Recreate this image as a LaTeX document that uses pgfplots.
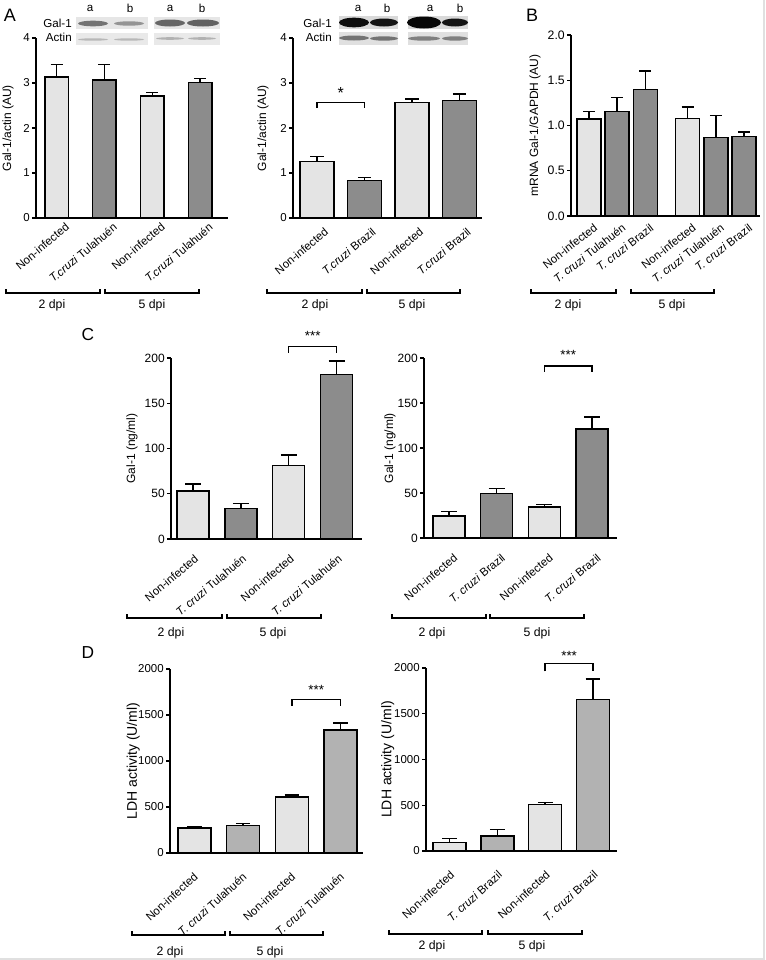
\documentclass[border=0pt]{standalone}
\usepackage{pgfplots}
\pgfplotsset{compat=1.18}
\usepackage{fontspec}
\setmainfont{Liberation Sans}
\definecolor{lightbar}{HTML}{E4E4E4}
\definecolor{darkbar}{HTML}{8C8C8C}
\definecolor{midbar}{HTML}{B2B2B2}
\definecolor{blotbg}{HTML}{E6E6E6}

\pgfplotsset{
  panel/.style={
    scale only axis,
    axis x line=bottom, axis y line=left,
    axis line style={-, line width=1.1pt},
    ymin=0,
    xtick style={draw=none},
    ytick style={line width=1pt, black},
    tick align=outside, major tick length=3pt,
    yticklabel style={font=\fontsize{8.6}{10}\selectfont, inner sep=1.5pt},
    /pgf/number format/assume math mode=true,
    /pgf/number format/1000 sep={},
    clip=false,
    ylabel style={font=\fontsize{9}{10}\selectfont, anchor=center},
  },
  xl/.style n args={3}{xticklabel style={font=\fontsize{8.6}{10}\selectfont, xshift=#1, yshift=#2, rotate=#3, anchor=north east, inner sep=0pt}},
  barL/.style={ybar, bar shift=0pt, fill=lightbar, draw=black, line width=1.1pt},
  barD/.style={ybar, bar shift=0pt, fill=darkbar, draw=black, line width=1.1pt},
  barM/.style={ybar, bar shift=0pt, fill=midbar, draw=black, line width=1.1pt},
  errs/.style={error bars/.cd, y dir=plus, y explicit,
    error bar style={line width=1.1pt, black, solid},
    error mark options={rotate=90, mark size=#1, line width=1.1pt, black}},
}
\newcommand{\grp}[3]{% x1 x2 y
  \draw[line width=1.1pt] (#1,#3-4) -- (#1,#3) -- (#2,#3) -- (#2,#3-4);}
\newcommand{\tc}{\textit{T. cruzi}}

\begin{document}
\begin{tikzpicture}[x=0.75pt,y=-0.75pt]
\path[use as bounding box] (0,0) rectangle (765,960);
\draw[color=black!12, line width=1.5pt] (764,0) -- (764,959) -- (0,959);

\coordinate (oA1) at (36,218);
\coordinate (oA2) at (293,218);
\coordinate (oB) at (571,216);
\coordinate (oC1) at (171,539);
\coordinate (oC2) at (424,538);
\coordinate (oD1) at (170,853);
\coordinate (oD2) at (426,851);

% panel letters
\node[font=\fontsize{13.5}{14}\selectfont] at (10,15) {A};
\node[font=\fontsize{13.5}{14}\selectfont] at (532,15) {B};
\node[font=\fontsize{13}{14}\selectfont] at (88,335) {C};
\node[font=\fontsize{13}{14}\selectfont] at (88,653) {D};

% ---- blots A left
\fill[blotbg] (76,17) rectangle (148,29);
\fill[blotbg] (154,17) rectangle (220,29);
\fill[blotbg!90!white] (76,33) rectangle (148,45);
\fill[blotbg!90!white] (154,33) rectangle (220,45);
\fill[black!55] (93,23.5) ellipse (15 and 2.8);
\fill[black!42] (129,23.5) ellipse (15 and 2.2);
\fill[black!60] (170,23) ellipse (15 and 3.5);
\fill[black!62] (203,23) ellipse (16 and 3.5);
\fill[black!28] (93,39.5) ellipse (15 and 1.2);
\fill[black!28] (129,39.5) ellipse (15 and 1.2);
\fill[black!30] (170,38.5) ellipse (14 and 1.3);
\fill[black!30] (202,38.5) ellipse (14 and 1.3);
\begin{scope}[font=\fontsize{8.7}{10}\selectfont]
\node[anchor=east,inner sep=0pt] at (72,23) {Gal-1};
\node[anchor=east,inner sep=0pt] at (72,37) {Actin};
\node at (90,8) {a}; \node at (130,8) {b};
\node at (170,8) {a}; \node at (202,8) {b};
\end{scope}
% ---- blots A right
\fill[black!15] (339,16) rectangle (398,29);
\fill[black!15] (408,16) rectangle (468,29);
\fill[black!12] (339,32) rectangle (398,45);
\fill[black!12] (408,32) rectangle (468,45);
\fill[black!95] (354,22.5) ellipse (15 and 4.8);
\fill[black!92] (384,22.5) ellipse (14 and 4);
\fill[black!97] (424,22.5) ellipse (17 and 6);
\fill[black!92] (455,22.5) ellipse (13 and 4);
\fill[black!55] (354,38) ellipse (15 and 2.5);
\fill[black!55] (384,38.5) ellipse (14 and 2.2);
\fill[black!50] (424,38.5) ellipse (16 and 2.2);
\fill[black!50] (455,38.5) ellipse (13 and 2.2);
\begin{scope}[font=\fontsize{8.7}{10}\selectfont]
\node[anchor=east,inner sep=0pt] at (332,23) {Gal-1};
\node[anchor=east,inner sep=0pt] at (332,37) {Actin};
\node at (358,8) {a}; \node at (387,8) {b};
\node at (430,8) {a}; \node at (460,8) {b};
\end{scope}

% ================= A left
\begin{axis}[panel, at={(oA1)}, anchor=south west, width=144pt, height=135pt,
  xmin=-0.43, xmax=3.58, ymax=4, ytick={0,1,2,3,4},
  xtick={0,1,2,3},
  xticklabels={Non-infected,{\textit{T.cruzi} Tulahuén},Non-infected,{\textit{T.cruzi} Tulahuén}},
  xl={6pt}{0pt}{40},
  ylabel={Gal-1/actin (AU)}, ylabel style={at={(axis description cs:-0.146,0.5)}}]
\addplot[barL, bar width=17.6pt, errs=4.5pt] table[x=x,y=y,y error=e,row sep=\\]{x y e\\ 0 3.13 0.28\\ 2 2.71 0.08\\};
\addplot[barD, bar width=17.6pt, errs=4.5pt] table[x=x,y=y,y error=e,row sep=\\]{x y e\\ 1 3.07 0.34\\ 3 3.01 0.09\\};
\end{axis}

% ================= A right
\begin{axis}[panel, at={(oA2)}, anchor=south west, width=141.75pt, height=135pt,
  xmin=-0.505, xmax=3.47, ymax=4, ytick={0,1,2,3,4},
  xtick={0,1,2,3},
  xticklabels={Non-infected,{\textit{T.cruzi} Brazil},Non-infected,{\textit{T.cruzi} Brazil}},
  xl={5pt}{-3.5pt}{40},
  ylabel={Gal-1/actin (AU)}, ylabel style={at={(axis description cs:-0.159,0.5)}}]
\addplot[barL, bar width=25.5pt, errs=5pt] table[x=x,y=y,y error=e,row sep=\\]{x y e\\ 0 1.26 0.11\\ 2 2.57 0.07\\};
\addplot[barD, bar width=25.5pt, errs=5pt] table[x=x,y=y,y error=e,row sep=\\]{x y e\\ 1 0.83 0.07\\ 3 2.61 0.15\\};
\draw[line width=1.1pt] (axis cs:0,2.44) -- (axis cs:0,2.57) -- (axis cs:1,2.57) -- (axis cs:1,2.44);
\node[font=\fontsize{12}{13}\selectfont] at (axis cs:0.5,2.78) {*};
\end{axis}

% ================= B
\begin{axis}[panel, at={(oB)}, anchor=south west, width=141.75pt, height=135.75pt,
  xmin=-0.64, xmax=6.07, ymax=2, ytick={0,0.5,1,1.5,2},
  yticklabel style={font=\fontsize{9.2}{10}\selectfont, /pgf/number format/.cd, fixed, fixed zerofill, precision=1},
  xtick={0,1,2,3.5,4.5,5.5},
  xticklabels={Non-infected,{\tc\ Tulahuén},{\tc\ Brazil},Non-infected,{\tc\ Tulahuén},{\tc\ Brazil}},
  xl={3pt}{-2pt}{38},
  ylabel={mRNA Gal-1/GAPDH (AU)}, ylabel style={at={(axis description cs:-0.19,0.5)}}]
\addplot[barL, bar width=18pt, errs=4.5pt] table[x=x,y=y,y error=e,row sep=\\]{x y e\\ 0 1.07 0.085\\ 3.5 1.075 0.13\\};
\addplot[barD, bar width=18pt, errs=4.5pt] table[x=x,y=y,y error=e,row sep=\\]{x y e\\ 1 1.155 0.155\\ 2 1.40 0.20\\ 4.5 0.87 0.24\\ 5.5 0.878 0.048\\};
\end{axis}

% ================= C left
\begin{axis}[panel, at={(oC1)}, anchor=south west, width=143.25pt, height=135.75pt,
  xmin=-0.46, xmax=3.53, ymax=200, ytick={0,50,100,150,200},
  yticklabel style={font=\fontsize{9}{10}\selectfont},
  xtick={0,1,2,3},
  xticklabels={Non-infected,{\tc\ Tulahuén},Non-infected,{\tc\ Tulahuén}},
  xl={0.5pt}{-8pt}{40},
  ylabel={Gal-1 (ng/ml)}, ylabel style={at={(axis description cs:-0.204,0.5)}}]
\addplot[barL, bar width=24pt, errs=6pt] table[x=x,y=y,y error=e,row sep=\\]{x y e\\ 0 52.8 8.1\\ 2 81.2 11.8\\};
\addplot[barD, bar width=24pt, errs=6pt] table[x=x,y=y,y error=e,row sep=\\]{x y e\\ 1 34 5.5\\ 3 181.5 15.2\\};
\draw[line width=1.1pt] (axis cs:2,206) -- (axis cs:2,213) -- (axis cs:3,213) -- (axis cs:3,206);
\node[font=\fontsize{10}{11}\selectfont] at (axis cs:2.5,224) {***};
\end{axis}

% ================= C right
\begin{axis}[panel, at={(oC2)}, anchor=south west, width=144.75pt, height=135pt,
  xmin=-0.52, xmax=3.52, ymax=200, ytick={0,50,100,150,200},
  yticklabel style={font=\fontsize{9}{10}\selectfont},
  xtick={0,1,2,3},
  xticklabels={Non-infected,{\tc\ Brazil},Non-infected,{\tc\ Brazil}},
  xl={3pt}{-8pt}{40},
  ylabel={Gal-1 (ng/ml)}, ylabel style={at={(axis description cs:-0.176,0.5)}}]
\addplot[barL, bar width=24pt, errs=6pt] table[x=x,y=y,y error=e,row sep=\\]{x y e\\ 0 24.7 4.8\\ 2 34.3 3\\};
\addplot[barD, bar width=24pt, errs=6pt] table[x=x,y=y,y error=e,row sep=\\]{x y e\\ 1 49.4 5.6\\ 3 121 13.3\\};
\draw[line width=1.1pt] (axis cs:2,185) -- (axis cs:2,191) -- (axis cs:3,191) -- (axis cs:3,185);
\node[font=\fontsize{10}{11}\selectfont] at (axis cs:2.5,203) {***};
\end{axis}

% ================= D left
\begin{axis}[panel, at={(oD1)}, anchor=south west, width=144.75pt, height=138pt,
  xmin=-0.5, xmax=3.46, ymax=2000, ytick={0,500,1000,1500,2000},
  xtick={0,1,2,3},
  xticklabels={Non-infected,{\tc\ Tulahuén},Non-infected,{\tc\ Tulahuén}},
  xl={-1pt}{-11pt}{42},
  ylabel={LDH activity (U/ml)}, ylabel style={font=\fontsize{10.5}{11}\selectfont, at={(axis description cs:-0.19,0.5)}}]
\addplot[barL, bar width=24.75pt, errs=5.5pt] table[x=x,y=y,y error=e,row sep=\\]{x y e\\ 0 271 18\\ 2 611 18\\};
\addplot[barM, bar width=24.75pt, errs=5.5pt] table[x=x,y=y,y error=e,row sep=\\]{x y e\\ 1 300 22\\ 3 1338 76\\};
\draw[line width=1.1pt] (axis cs:2,1602) -- (axis cs:2,1671) -- (axis cs:3,1671) -- (axis cs:3,1602);
\node[font=\fontsize{10}{11}\selectfont] at (axis cs:2.5,1775) {***};
\end{axis}

% ================= D right
\begin{axis}[panel, at={(oD2)}, anchor=south west, width=143.25pt, height=137.25pt,
  xmin=-0.49, xmax=3.5, ymax=2000, ytick={0,500,1000,1500,2000},
  xtick={0,1,2,3},
  xticklabels={Non-infected,{\tc\ Brazil},Non-infected,{\tc\ Brazil}},
  xl={0pt}{-11pt}{42},
  ylabel={LDH activity (U/ml)}, ylabel style={font=\fontsize{10.5}{11}\selectfont, at={(axis description cs:-0.2,0.5)}}]
\addplot[barL, bar width=24.75pt, errs=5.5pt] table[x=x,y=y,y error=e,row sep=\\]{x y e\\ 0 95 44\\ 2 511 22\\};
\addplot[barM, bar width=24.75pt, errs=5.5pt] table[x=x,y=y,y error=e,row sep=\\]{x y e\\ 1 164 73\\ 3 1653 227\\};
\draw[line width=1.1pt] (axis cs:2,1964) -- (axis cs:2,2047) -- (axis cs:3,2047) -- (axis cs:3,1964);
\node[font=\fontsize{10}{11}\selectfont] at (axis cs:2.5,2135) {***};
\end{axis}

% ---- group brackets and labels
\begin{scope}[font=\fontsize{9.2}{10}\selectfont]
\grp{6}{100}{293} \grp{105}{199}{293}
\node at (52,305) {2 dpi}; \node at (152,305) {5 dpi};
\grp{267}{362}{293} \grp{367}{460}{293}
\node at (315,305) {2 dpi}; \node at (412,305) {5 dpi};
\grp{531}{616}{293} \grp{631}{714}{293}
\node at (568,305) {2 dpi}; \node at (672,305) {5 dpi};
\grp{127}{222}{618} \grp{227}{321}{618}
\node at (171,633) {2 dpi}; \node at (273,633) {5 dpi};
\grp{392}{486}{618} \grp{490}{584}{618}
\node at (432,633) {2 dpi}; \node at (537,633) {5 dpi};
\grp{132}{225}{935} \grp{230}{323}{935}
\node at (170,952) {2 dpi}; \node at (270,952) {5 dpi};
\grp{389}{482}{934} \grp{488}{582}{934}
\node at (432,946) {2 dpi}; \node at (532,946) {5 dpi};
\end{scope}
\end{tikzpicture}
\end{document}
